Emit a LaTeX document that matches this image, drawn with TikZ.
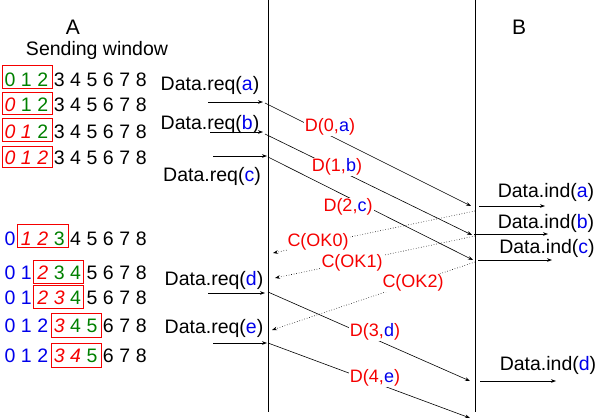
\documentclass[tikz,border=0pt]{standalone}
\usepackage{fontspec}
\setmainfont{Liberation Sans}
\usetikzlibrary{arrows.meta}
\definecolor{myred}{RGB}{245,0,0}
\definecolor{myblue}{RGB}{0,0,235}
\definecolor{mygreen}{RGB}{0,128,0}
\newcommand\bigtxt{\fontsize{19.5}{22}\selectfont}
\newcommand\lbltxt{\fontsize{18}{20}\selectfont}
\newcommand\bl[1]{\textcolor{myblue}{#1}}
\newcommand\digrow[3]{%
  \foreach \dstyle [count=\i from 0] in {#2} {
    \node[digit,\dstyle] (d#3-\i) at ({10+16.4*\i}, #1) {\i};
  }}
\tikzset{
  digit/.style={anchor=base, inner sep=0pt, font=\bigtxt},
  dk/.style={text=black},
  dgr/.style={text=mygreen},
  drd/.style={text=myred, font=\bigtxt\itshape},
  dbl/.style={text=myblue},
  winbox/.style={draw=myred, line width=0.9pt},
  txt/.style={inner sep=0pt, font=\bigtxt},
  lbl/.style={inner sep=1pt, fill=white, font=\lbltxt, text=myred},
  conn/.style={-{Stealth[length=5pt,width=3.6pt]}, line width=0.6pt},
  ack/.style={conn, dotted},
  life/.style={line width=0.7pt},
}
\begin{document}
\begin{tikzpicture}[x=1pt, y=-1pt]
\useasboundingbox (0,0) rectangle (597,420);
% lifelines
\coordinate (Atop) at (268,0); \coordinate (Abot) at (268,412);
\coordinate (Btop) at (475,0); \coordinate (Bbot) at (475,412);
\draw[life] (Atop) -- (Abot);
\draw[life] (Btop) -- (Bbot);
% window boxes
\draw[winbox] (2.5,65.5) rectangle (52.5,88.5);
\draw[winbox] (2.5,92.5) rectangle (52.5,114.5);
\draw[winbox] (2.5,118.5) rectangle (52.5,141.5);
\draw[winbox] (2.5,146.5) rectangle (52.5,167.5);
\draw[winbox] (17.5,224.5) rectangle (68.5,247.5);
\draw[winbox] (33.5,260.5) rectangle (83.5,283.5);
\draw[winbox] (33.5,285.5) rectangle (83.5,308.5);
\draw[winbox] (51.5,313.5) rectangle (101.5,337.5);
\draw[winbox] (51.5,343.5) rectangle (101.5,367.5);
% headers
\node[txt, font=\fontsize{21}{24}\selectfont] (A) at (73,27) {A};
\node[txt, font=\fontsize{21}{24}\selectfont] (B) at (519,27) {B};
\node[txt] (sw) at (97,50) {Sending window};
% window rows
\digrow{86.5}{dgr,dgr,dgr,dk,dk,dk,dk,dk,dk}{1}
\digrow{111.5}{drd,dgr,dgr,dk,dk,dk,dk,dk,dk}{2}
\digrow{138.5}{drd,drd,dgr,dk,dk,dk,dk,dk,dk}{3}
\digrow{164.5}{drd,drd,drd,dk,dk,dk,dk,dk,dk}{4}
\digrow{245}{dbl,drd,drd,dgr,dk,dk,dk,dk,dk}{5}
\digrow{279.5}{dbl,dbl,drd,dgr,dgr,dk,dk,dk,dk}{6}
\digrow{304.5}{dbl,dbl,drd,drd,dgr,dk,dk,dk,dk}{7}
\digrow{332.5}{dbl,dbl,dbl,drd,dgr,dgr,dk,dk,dk}{8}
\digrow{362.5}{dbl,dbl,dbl,drd,drd,dgr,dk,dk,dk}{9}
% request labels
\node[txt] (reqa) at (210,85) {Data.req(\bl{a})};
\node[txt] (reqb) at (210,124) {Data.req(\bl{b})};
\node[txt] (reqc) at (212,176) {Data.req(\bl{c})};
\node[txt] (reqd) at (214,280) {Data.req(\bl{d})};
\node[txt] (reqe) at (214,328) {Data.req(\bl{e})};
% indication labels
\node[txt] (inda) at (546,192) {Data.ind(\bl{a})};
\node[txt] (indb) at (546,223) {Data.ind(\bl{b})};
\node[txt] (indc) at (547,248) {Data.ind(\bl{c})};
\node[txt] (indd) at (548,365) {Data.ind(\bl{d})};
% coordinates
\coordinate (ra0) at (208,102); \coordinate (ra1) at (263,102);
\coordinate (rb0) at (210,132); \coordinate (rb1) at (263,132);
\coordinate (rc0) at (213,156); \coordinate (rc1) at (267,156);
\coordinate (rd0) at (208,293); \coordinate (rd1) at (265,293);
\coordinate (re0) at (213,343); \coordinate (re1) at (267,343);
\coordinate (s0) at (265,103); \coordinate (e0) at (471,206);
\coordinate (s1) at (265,134); \coordinate (e1) at (472,235);
\coordinate (s2) at (268,157); \coordinate (e2) at (473,260);
\coordinate (s3) at (268,292); \coordinate (e3) at (470,381);
\coordinate (s4) at (268,343); \coordinate (e4) at (470,418);
\coordinate (ia0) at (479,206); \coordinate (ia1) at (545,206);
\coordinate (ib0) at (474,234); \coordinate (ib1) at (548,234);
\coordinate (ic0) at (478,260); \coordinate (ic1) at (552,260);
\coordinate (id0) at (480,381); \coordinate (id1) at (556,381);
\coordinate (k0s) at (475,211); \coordinate (k0e) at (273,253);
\coordinate (k1s) at (475,236); \coordinate (k1e) at (275,278);
\coordinate (k2s) at (475,262); \coordinate (k2e) at (272,330);
% request / indication arrows
\draw[conn] (ra0) -- (ra1);
\draw[conn] (rb0) -- (rb1);
\draw[conn] (rc0) -- (rc1);
\draw[conn] (rd0) -- (rd1);
\draw[conn] (re0) -- (re1);
\draw[conn] (ia0) -- (ia1);
\draw[conn] (ib0) -- (ib1);
\draw[conn] (ic0) -- (ic1);
\draw[conn] (id0) -- (id1);
% data frames
\draw[conn] (s0) -- (e0);
\draw[conn] (s1) -- (e1);
\draw[conn] (s2) -- (e2);
\draw[conn] (s3) -- (e3);
\draw[conn] (s4) -- (e4);
% acks
\draw[ack] (k0s) -- (k0e);
\draw[ack] (k1s) -- (k1e);
\draw[ack] (k2s) -- (k2e);
% frame labels
\node[lbl] (l0) at (330,127) {D(0,\bl{a})};
\node[lbl] (l1) at (337,167) {D(1,\bl{b})};
\node[lbl] (l2) at (348,207) {D(2,\bl{c})};
\node[lbl] (l3) at (375,332) {D(3,\bl{d})};
\node[lbl] (l4) at (375,378) {D(4,\bl{e})};
\node[lbl] (c0) at (318,242) {C(OK0)};
\node[lbl] (c1) at (352,263) {C(OK1)};
\node[lbl] (c2) at (413,283) {C(OK2)};
\end{tikzpicture}
\end{document}
